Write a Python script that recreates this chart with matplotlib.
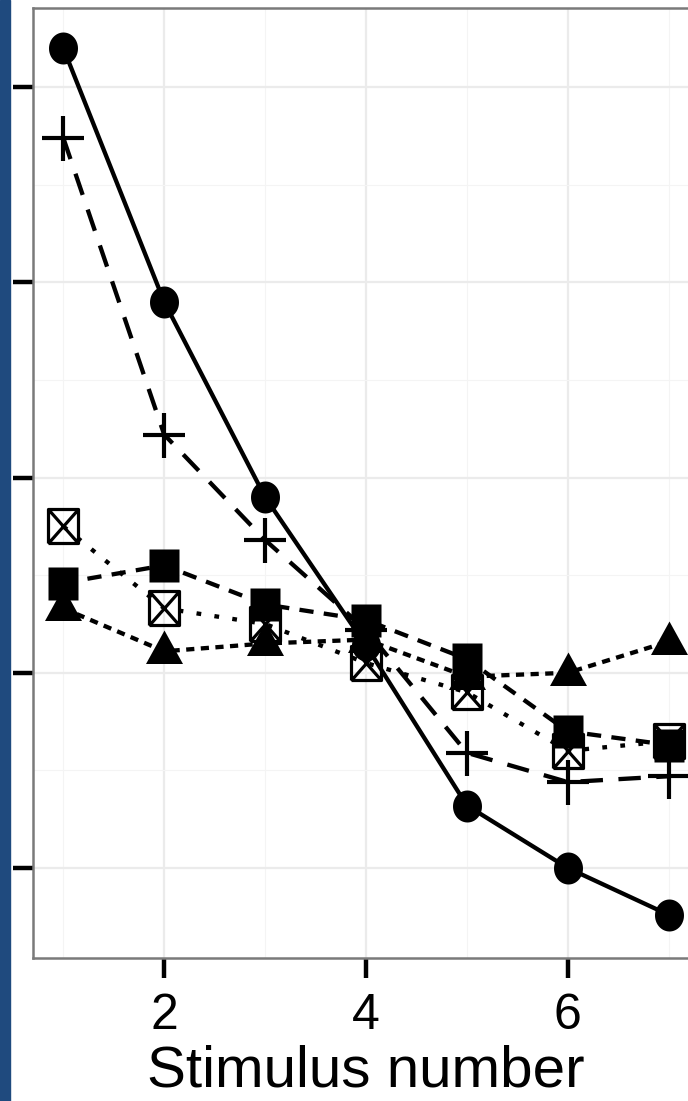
import numpy as np
import matplotlib
matplotlib.use("Agg")
import matplotlib.pyplot as plt
from matplotlib.path import Path
from matplotlib.patches import Rectangle

plt.rcParams['font.family'] = ['Liberation Sans Narrow', 'Liberation Sans', 'DejaVu Sans']

# data (y axis labels are cut off, arbitrary units)
stim = [1, 2, 3, 4, 5, 6, 7]
circle_y = [5.20, 3.90, 2.90, 2.14, 1.32, 1.00, 0.76]
plus_y = [4.74, 3.22, 2.68, 2.22, 1.59, 1.44, 1.47]
boxx_y = [2.75, 2.33, 2.25, 2.05, 1.90, 1.60, 1.65]
square_y = [2.46, 2.55, 2.35, 2.27, 2.07, 1.70, 1.63]
tri_y = [2.33, 2.11, 2.15, 2.17, 1.98, 2.00, 2.16]
xticks = [2, 4, 6]
yticks = [1, 2, 3, 4, 5]


def mk(verts, codes=None):
    # marker from pixel coords, returns marker and size in points
    verts = np.asarray(verts, float)
    r = np.abs(verts).max()
    return Path(verts, codes), 2 * r * 0.72


t = np.linspace(0, 2 * np.pi, 60)
circ_m, circ_s = mk(np.c_[14.5 * np.cos(t), 16 * np.sin(t)])
sq_m, sq_s = mk([(-15, -16.5), (15, -16.5), (15, 16.5), (-15, 16.5), (-15, -16.5)],
                [1, 2, 2, 2, 79])
tri_m, tri_s = mk([(-18.5, -12.5), (18.5, -12.5), (0, 21), (-18.5, -12.5)], [1, 2, 2, 79])
plus_m, plus_s = mk([(-21, 0), (21, 0), (0, -22.5), (0, 22.5)], [1, 2, 1, 2])
bx_m, bx_s = mk([(-15, -17), (15, -17), (15, 17), (-15, 17), (-15, -17),
                 (-15, -17), (15, 17), (-15, 17), (15, -17)],
                [1, 2, 2, 2, 2, 1, 2, 1, 2])

fig = plt.figure(figsize=(6.88, 11.01), dpi=100)
ax = fig.add_axes([33 / 688, 143 / 1101, 666 / 688, 950 / 1101])

lw = 3.1
ax.plot(stim, circle_y, color='black', lw=lw, ls='-', marker=circ_m, ms=circ_s,
        mec='none', zorder=3)
ax.plot(stim, plus_y, color='black', lw=lw, ls=(0, (5.2, 3.6)), marker=plus_m, ms=plus_s,
        mfc='none', mew=3.0, zorder=3)
ax.plot(stim, boxx_y, color='black', lw=lw, ls=(0, (1.1, 3.1)), marker=bx_m, ms=bx_s,
        mfc='none', mew=2.3, zorder=3)
ax.plot(stim, square_y, color='black', lw=lw, ls=(0, (3.3, 2.4)), marker=sq_m, ms=sq_s,
        mec='none', zorder=3)
ax.plot(stim, tri_y, color='black', lw=lw, ls=(0, (1.9, 1.5)), marker=tri_m, ms=tri_s,
        mec='none', zorder=3)

ax.set_xticks(xticks)
ax.set_xticks(stim, minor=True)
ax.set_yticks(yticks)
ax.set_yticks([0.5 + v for v in yticks[:-1]], minor=True)
ax.set_xlim(0.7, 7.3)
ax.set_ylim(0.539, 5.405)
ax.grid(True, which='major', color='#ebebeb', lw=1.6)
ax.grid(True, which='minor', color='#f4f4f4', lw=0.8)
ax.set_axisbelow(True)
ax.tick_params(which='minor', length=0)
ax.tick_params(which='major', length=14.5, width=3.2, color='black',
               labelsize=36, pad=11, labelleft=False)
for s in ax.spines.values():
    s.set_color('#7a7a7a')
    s.set_linewidth(1.8)
ax.set_xlabel('Stimulus number', fontsize=42, labelpad=4)

fig.patches.append(Rectangle((0, 0), 10 / 688, 1, transform=fig.transFigure,
                             color='#1f4a7e', zorder=0))

fig.savefig('out.png', dpi=100)
